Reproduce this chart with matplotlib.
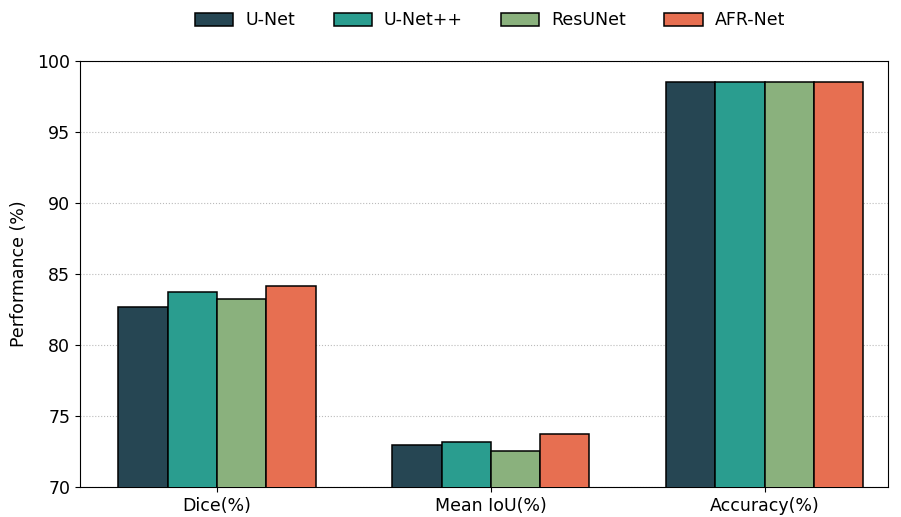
import numpy as np
import matplotlib
matplotlib.use("Agg")
import matplotlib.pyplot as plt

metrics = ["Dice(%)", "Mean IoU(%)", "Accuracy(%)"]
models = ["U-Net", "U-Net++", "ResUNet", "AFR-Net"]
colors = ["#264653", "#2a9d8f", "#8ab17d", "#e76f51"]

# values
unet = [82.65, 72.96, 98.5]
unetpp = [83.75, 73.2, 98.5]
resunet = [83.26, 72.55, 98.5]
afrnet = [84.18, 73.72, 98.5]
series = [unet, unetpp, resunet, afrnet]

fig = plt.figure(figsize=(9.01, 5.17), dpi=100)
ax = fig.add_axes([0.0888, 0.058, 0.8968, 0.8245])

x = np.arange(len(metrics))
w = 0.18
for i, vals in enumerate(series):
    ax.bar(x + (i - 1.5) * w, vals, w, color=colors[i], edgecolor="black",
           linewidth=1.1, label=models[i], zorder=3)

ax.set_ylim(70, 100)
ax.set_xlim(-0.5, 2.45)
ax.set_xticks(x)
ax.set_xticklabels(metrics, fontsize=12.5)
ax.tick_params(axis="y", labelsize=12.5)
ax.set_ylabel("Performance (%)", fontsize=12.5, labelpad=7)
ax.yaxis.grid(True, linestyle=":", color="#bbbbbb", linewidth=0.8, zorder=0)
ax.set_axisbelow(True)

fig.legend(loc="upper center", ncol=4, frameon=False, fontsize=12.5,
           bbox_to_anchor=(0.544, 1.008), handlelength=2.2, handleheight=0.85,
           handletextpad=0.7, columnspacing=2.2)

fig.savefig("out.png", dpi=100)
